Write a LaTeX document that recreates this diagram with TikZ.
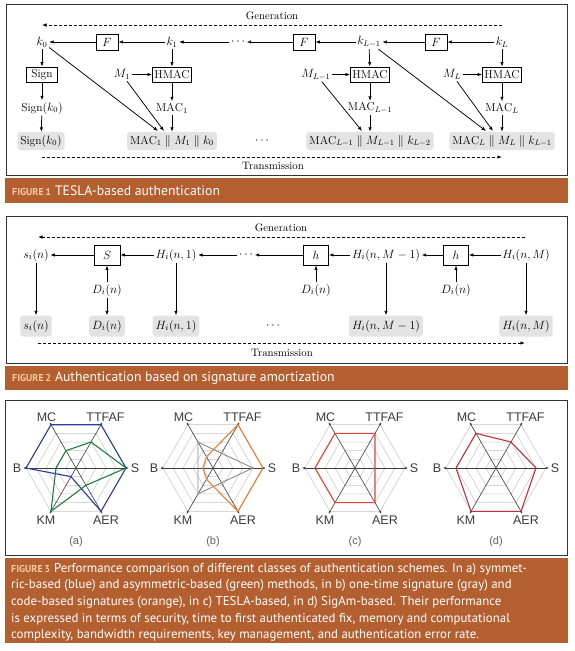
\documentclass[tikz,border=0pt]{standalone}
\usepackage{fontspec}
\usetikzlibrary{arrows.meta,calc}
\newfontfamily\capfont{PT Sans}
\newfontfamily\radfont{Liberation Sans}
\definecolor{barc}{HTML}{B45F30}
\definecolor{figlab}{HTML}{F8C9A0}
\definecolor{boxgray}{HTML}{E3E3E3}
\definecolor{framec}{HTML}{333333}
\definecolor{rblue}{HTML}{2D3E9A}
\definecolor{rgreen}{HTML}{1F7E3C}
\definecolor{rorange}{HTML}{F07A2C}
\definecolor{rgray}{HTML}{8A8A8A}
\definecolor{rredc}{HTML}{E5432F}
\definecolor{rredd}{HTML}{C0323A}
\definecolor{gridc}{HTML}{C4C4C4}
\definecolor{axisc}{HTML}{3C3C3C}
\newcommand\radgrid[1]{%
  \foreach \r in {10,20,30,40,50}
    \draw[gridc,line width=0.5pt] (0:\r) -- (60:\r) -- (120:\r) -- (180:\r) -- (240:\r) -- (300:\r) -- cycle;
  \foreach \a in {0,60,120}
    \draw[axisc,line width=0.6pt,{Latex[length=3pt,width=2.4pt]}-{Latex[length=3pt,width=2.4pt]}] ({\a+180}:53) -- (\a:53);
  \node[radlab] (S#1) at (0:59) {S};
  \node[radlab] (T#1) at (60:59) {TTFAF};
  \node[radlab] (MC#1) at (120:59) {MC};
  \node[radlab] (B#1) at (180:59) {B};
  \node[radlab] (KM#1) at (240:60) {KM};
  \node[radlab] (AER#1) at (300:60) {AER};
  \node[sublab] (cap#1) at (0,-74) {(#1)};
}
\begin{document}
\begin{tikzpicture}[x=1pt,y=-1pt,
  arr/.style={-{Latex[length=4.5pt,width=3.4pt]},line width=0.75pt},
  dasharr/.style={arr,dash pattern=on 3pt off 2pt},
  opbox/.style={draw,line width=0.8pt,inner sep=2pt},
  gbox/.style={fill=boxgray,rounded corners=3pt,inner xsep=3pt,inner ysep=2pt},
  lab/.style={inner sep=1.5pt},
  figframe/.style={draw=framec,line width=0.8pt},
  fa/.style={font=\fontsize{11.5}{13}\selectfont},
  fb/.style={font=\fontsize{13}{15}\selectfont},
  genlab/.style={font=\fontsize{10.8}{12}\selectfont,inner sep=0pt},
  radlab/.style={font=\radfont\fontsize{12.5}{14}\selectfont,text=axisc,inner sep=0pt},
  sublab/.style={font=\radfont\fontsize{11}{12}\selectfont,text=axisc!80,inner sep=0pt},
  poly/.style={line width=1.1pt,line join=round}
]
\useasboundingbox (0,0) rectangle (574,651);
\fill[white] (0,0) rectangle (574,651);

% ================= FIGURE 1 =================
\draw[figframe] (6,4) rectangle (567,175.5);
\fill[barc] (5,178) rectangle (568,203);
\node[anchor=west,inner sep=0pt] (cap1) at (12,190.5) {{\capfont\bfseries\fontsize{10}{11}\selectfont\color{figlab}FIGURE\,1}\hspace{4pt}{\capfont\fontsize{13.7}{15}\selectfont\color{white}TESLA-based authentication}};

\begin{scope}[every node/.append style={fa}]
\node[genlab] (gen1) at (272,16) {Generation};
\coordinate (g1R) at (502,25);
\coordinate (g1L) at (42,25);
\draw[dasharr] (g1R) -- (g1L);
\node[genlab] (tr1) at (273,166) {Transmission};
\coordinate (t1L) at (42,157);
\coordinate (t1R) at (502,157);
\draw[dasharr] (t1L) -- (t1R);

\node[lab] (k0) at (42,42) {$k_0$};
\node[opbox,minimum width=22pt,minimum height=16pt] (F1) at (107,42) {$F$};
\node[lab] (k1) at (172,42) {$k_1$};
\node[lab] (dots1) at (238,42) {$\cdots$};
\node[opbox,minimum width=22pt,minimum height=16pt] (F2) at (304,42) {$F$};
\node[lab] (kL1) at (369,42) {$k_{L-1}$};
\node[opbox,minimum width=22pt,minimum height=16pt] (F3) at (436,42) {$F$};
\node[lab] (kL) at (502,42) {$k_L$};

\node[opbox,minimum width=31pt,minimum height=15pt] (sign) at (42,74.5) {Sign};
\node[lab] (signk) at (42,108) {Sign$(k_0)$};
\node[gbox,minimum height=18pt] (gsign) at (41,141) {Sign$(k_0)$};

\node[lab] (M1) at (122,74.5) {$M_1$};
\node[opbox,minimum height=15pt] (hm1) at (172,74.5) {HMAC};
\node[lab] (mac1) at (172,108) {$\mathrm{MAC}_1$};
\node[gbox,minimum height=18pt] (gb1) at (172,141) {$\mathrm{MAC}_1 \parallel M_1 \parallel k_0$};

\node[lab] (dots2) at (262,141) {$\cdots$};

\node[lab] (ML1) at (316,74.5) {$M_{L-1}$};
\node[opbox,minimum height=15pt] (hm2) at (370,74.5) {HMAC};
\node[lab] (mac2) at (370,108) {$\mathrm{MAC}_{L-1}$};
\node[gbox,minimum height=18pt] (gb2) at (370,141) {$\mathrm{MAC}_{L-1} \parallel M_{L-1} \parallel k_{L-2}$};

\node[lab] (ML) at (452,74.5) {$M_L$};
\node[opbox,minimum height=15pt] (hm3) at (502,74.5) {HMAC};
\node[lab] (mac3) at (502,108) {$\mathrm{MAC}_L$};
\node[gbox,minimum height=18pt] (gb3) at (502,141) {$\mathrm{MAC}_L \parallel M_L \parallel k_{L-1}$};

\draw[arr] (k1) -- (F1);
\draw[arr] (F1) -- (k0);
\draw[arr] (dots1) -- (k1);
\draw[arr] (F2) -- (dots1);
\draw[arr] (kL1) -- (F2);
\draw[arr] (F3) -- (kL1);
\draw[arr] (kL) -- (F3);

\draw[arr] (k0) -- (sign);
\draw[arr] (sign) -- (signk);
\draw[arr] (signk) -- (gsign);

\draw[arr] (k1) -- (hm1);
\draw[arr] (M1) -- (hm1);
\draw[arr] (hm1) -- (mac1);
\draw[arr] (mac1) -- (gb1);
\coordinate (tk0) at (158,131);
\coordinate (tM1) at (164,131);
\draw[arr] (k0) -- (tk0);
\draw[arr] (M1) -- (tM1);

\draw[arr] (kL1) -- (hm2);
\draw[arr] (ML1) -- (hm2);
\draw[arr] (hm2) -- (mac2);
\draw[arr] (mac2) -- (gb2);
\coordinate (tML1) at (362,131);
\draw[arr] (ML1) -- (tML1);

\draw[arr] (kL) -- (hm3);
\draw[arr] (ML) -- (hm3);
\draw[arr] (hm3) -- (mac3);
\draw[arr] (mac3) -- (gb3);
\coordinate (tkL1) at (486,131);
\coordinate (tML) at (493,131);
\draw[arr] (kL1) -- (tkL1);
\draw[arr] (ML) -- (tML);
\end{scope}

% ================= FIGURE 2 =================
\draw[figframe] (6,216) rectangle (567,363.5);
\fill[barc] (5,365.5) rectangle (568,390);
\node[anchor=west,inner sep=0pt] (cap2) at (12,378) {{\capfont\bfseries\fontsize{10}{11}\selectfont\color{figlab}FIGURE\,2}\hspace{4pt}{\capfont\fontsize{13.7}{15}\selectfont\color{white}Authentication based on signature amortization}};

\begin{scope}[every node/.append style={fb}]
\node[genlab] (gen2) at (281,228) {Generation};
\coordinate (g2R) at (525,237);
\coordinate (g2L) at (38,237);
\draw[dasharr] (g2R) -- (g2L);
\node[genlab] (tr2) at (282,353) {Transmission};
\coordinate (t2L) at (38,343);
\coordinate (t2R) at (525,343);
\draw[dasharr] (t2L) -- (t2R);

\node[lab] (si) at (36,255) {$s_i(n)$};
\node[opbox,minimum width=26pt,minimum height=20pt] (Sb) at (107,255) {$S$};
\node[lab] (H1) at (176,255) {$H_i(n,1)$};
\node[lab] (dots3) at (246,255) {$\cdots$};
\node[opbox,minimum width=25pt,minimum height=20pt] (h1) at (316,255) {$h$};
\node[lab] (HM1) at (386,255) {$H_i(n,M-1)$};
\node[opbox,minimum width=25pt,minimum height=20pt] (h2) at (456,255) {$h$};
\node[lab] (HM) at (526,255) {$H_i(n,M)$};

\node[lab] (D0) at (107,290) {$D_i(n)$};
\node[lab] (Dh1) at (316,290) {$D_i(n)$};
\node[lab] (Dh2) at (456,290) {$D_i(n)$};

\node[gbox,minimum height=21pt] (gs) at (36,326) {$s_i(n)$};
\node[gbox,minimum height=21pt] (gD) at (107,326) {$D_i(n)$};
\node[gbox,minimum height=21pt] (gH1) at (176,326) {$H_i(n,1)$};
\node[lab] (dots4) at (273,326) {$\cdots$};
\node[gbox,minimum height=21pt] (gHM1) at (386,326) {$H_i(n,M-1)$};
\node[gbox,minimum height=21pt] (gHM) at (526,326) {$H_i(n,M)$};

\draw[arr] (HM) -- (h2);
\draw[arr] (h2) -- (HM1);
\draw[arr] (HM1) -- (h1);
\draw[arr] (h1) -- (dots3);
\draw[arr] (dots3) -- (H1);
\draw[arr] (H1) -- (Sb);
\draw[arr] (Sb) -- (si);

\draw[arr] (D0) -- (Sb);
\draw[arr] (D0) -- (gD);
\draw[arr] (Dh1) -- (h1);
\draw[arr] (Dh2) -- (h2);

\draw[arr] (si) -- (gs);
\draw[arr] (H1) -- (gH1);
\draw[arr] (HM1) -- (gHM1);
\draw[arr] (HM) -- (gHM);
\end{scope}

% ================= FIGURE 3 =================
\draw[figframe] (5,400) rectangle (567,555.5);
\fill[barc] (5,557.5) rectangle (568,643);

\begin{scope}[shift={(76,468)},y=1pt]
\radgrid{a}
\draw[rblue,poly] (0:50) -- (60:50) -- (120:50) -- (180:50) -- (240:10) -- (300:50) -- cycle;
\draw[rgreen,poly] (0:50) -- (60:30) -- (120:20) -- (180:20) -- (240:50) -- (300:20) -- cycle;
\end{scope}

\begin{scope}[shift={(213,468)},y=1pt]
\radgrid{b}
\draw[rgray,poly,line width=0.9pt] (0:40) -- (60:17) -- (120:30) -- (180:15) -- (240:30) -- (300:17) -- cycle;
\draw[rorange,poly] (0:50) -- (60:50) -- (120:13) -- (180:10) -- (240:13) -- (300:50) -- cycle;
\end{scope}

\begin{scope}[shift={(355,468)},y=1pt]
\radgrid{c}
\draw[rredc,poly] (0:20) -- (60:40) -- (120:40) -- (180:40) -- (240:40) -- (300:40) -- cycle;
\end{scope}

\begin{scope}[shift={(496,468)},y=1pt]
\radgrid{d}
\draw[rredd,poly] (0:40) -- (60:30) -- (120:40) -- (180:40) -- (240:50) -- (300:50) -- cycle;
\end{scope}

\node[anchor=north west,inner sep=0pt,align=left,text=white,font=\capfont\fontsize{12.85}{16.6}\selectfont] (cap3) at (11,563) {{\bfseries\fontsize{10}{11}\selectfont\color{figlab}FIGURE\,3}\hspace{4pt}Performance comparison of different classes of authentication schemes. In a) symmet-\\
ric-based (blue) and asymmetric-based (green) methods, in b) one-time signature (gray) and\\
code-based signatures (orange), in c) TESLA-based, in d) SigAm-based. Their performance\\
is expressed in terms of security, time to first authenticated fix, memory and computational\\
complexity, bandwidth requirements, key management, and authentication error rate.};
\end{tikzpicture}
\end{document}
